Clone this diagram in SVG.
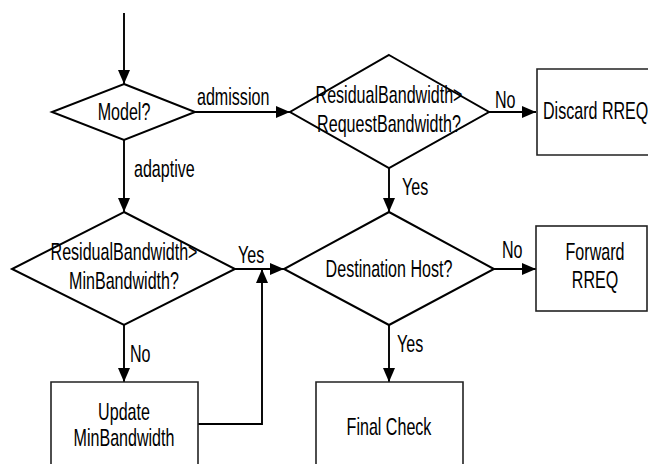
<svg xmlns="http://www.w3.org/2000/svg" width="648" height="464" viewBox="0 0 648 464">
<style>
.shape{fill:#fff;stroke:#000;stroke-width:2}
.box{fill:#fff;stroke:#222;stroke-width:1.6}
.line{fill:none;stroke:#000;stroke-width:1.9}
text{font-family:"Liberation Sans",Arial,sans-serif;font-size:24px;fill:#000}
.m{text-anchor:middle}
</style>
<defs>
<marker id="arr" markerUnits="userSpaceOnUse" markerWidth="16" markerHeight="14" refX="14" refY="6" orient="auto">
<path d="M0,0 L14,6 L0,12 z" fill="#000"/>
</marker>
</defs>
<g id="connectors">
<path class="line" d="M124,13 V84" marker-end="url(#arr)"/>
<path class="line" d="M195,112 H290" marker-end="url(#arr)"/>
<path class="line" d="M124,140 V212" marker-end="url(#arr)"/>
<path class="line" d="M489,112 H536" marker-end="url(#arr)"/>
<path class="line" d="M389,168 V212" marker-end="url(#arr)"/>
<path class="line" d="M235,269 H284" marker-end="url(#arr)"/>
<path class="line" d="M494,269 H536" marker-end="url(#arr)"/>
<path class="line" d="M124,325 V382" marker-end="url(#arr)"/>
<path class="line" d="M389,325 V382" marker-end="url(#arr)"/>
<path class="line" d="M198,424 H262 V269" marker-end="url(#arr)"/>
<text transform="translate(197,105) scale(0.67,1)">admission</text>
<text transform="translate(134,177) scale(0.67,1)">adaptive</text>
<text transform="translate(495,108) scale(0.67,1)">No</text>
<text transform="translate(402,195) scale(0.67,1)">Yes</text>
<text transform="translate(238,263) scale(0.67,1)">Yes</text>
<text transform="translate(130,362) scale(0.67,1)">No</text>
<text transform="translate(502,258) scale(0.67,1)">No</text>
<text transform="translate(397,352) scale(0.67,1)">Yes</text>
</g>
<g id="model">
<polygon class="shape" points="124,84 195,112 124,140 52,112"/>
<text class="m" transform="translate(124,120) scale(0.67,1)">Model?</text>
</g>
<g id="request-check">
<polygon class="shape" points="389,55 489,112 389,168 290,112"/>
<text class="m" transform="translate(389,103) scale(0.67,1)">ResidualBandwidth&gt;</text>
<text class="m" transform="translate(389,132) scale(0.67,1)">RequestBandwidth?</text>
</g>
<g id="discard">
<path class="box" d="M649,69 H537 V155 H649"/>
<text transform="translate(543,119) scale(0.67,1)">Discard RREQ</text>
</g>
<g id="min-check">
<polygon class="shape" points="124,212 235,269 124,325 12,269"/>
<text class="m" transform="translate(124,260) scale(0.67,1)">ResidualBandwidth&gt;</text>
<text class="m" transform="translate(124,289) scale(0.67,1)">MinBandwidth?</text>
</g>
<g id="destination">
<polygon class="shape" points="389,212 494,269 389,325 284,269"/>
<text class="m" transform="translate(389,277) scale(0.67,1)">Destination Host?</text>
</g>
<g id="forward">
<rect class="box" x="536" y="226" width="111" height="85"/>
<text class="m" transform="translate(595,260) scale(0.67,1)">Forward</text>
<text class="m" transform="translate(595,288) scale(0.67,1)">RREQ</text>
</g>
<g id="update">
<path class="box" d="M51,466 V382 H198 V466"/>
<text class="m" transform="translate(124,420) scale(0.67,1)">Update</text>
<text class="m" transform="translate(124,446) scale(0.67,1)">MinBandwidth</text>
</g>
<g id="final">
<path class="box" d="M316,466 V382 H463 V466"/>
<text class="m" transform="translate(389,435) scale(0.67,1)">Final Check</text>
</g>
</svg>
